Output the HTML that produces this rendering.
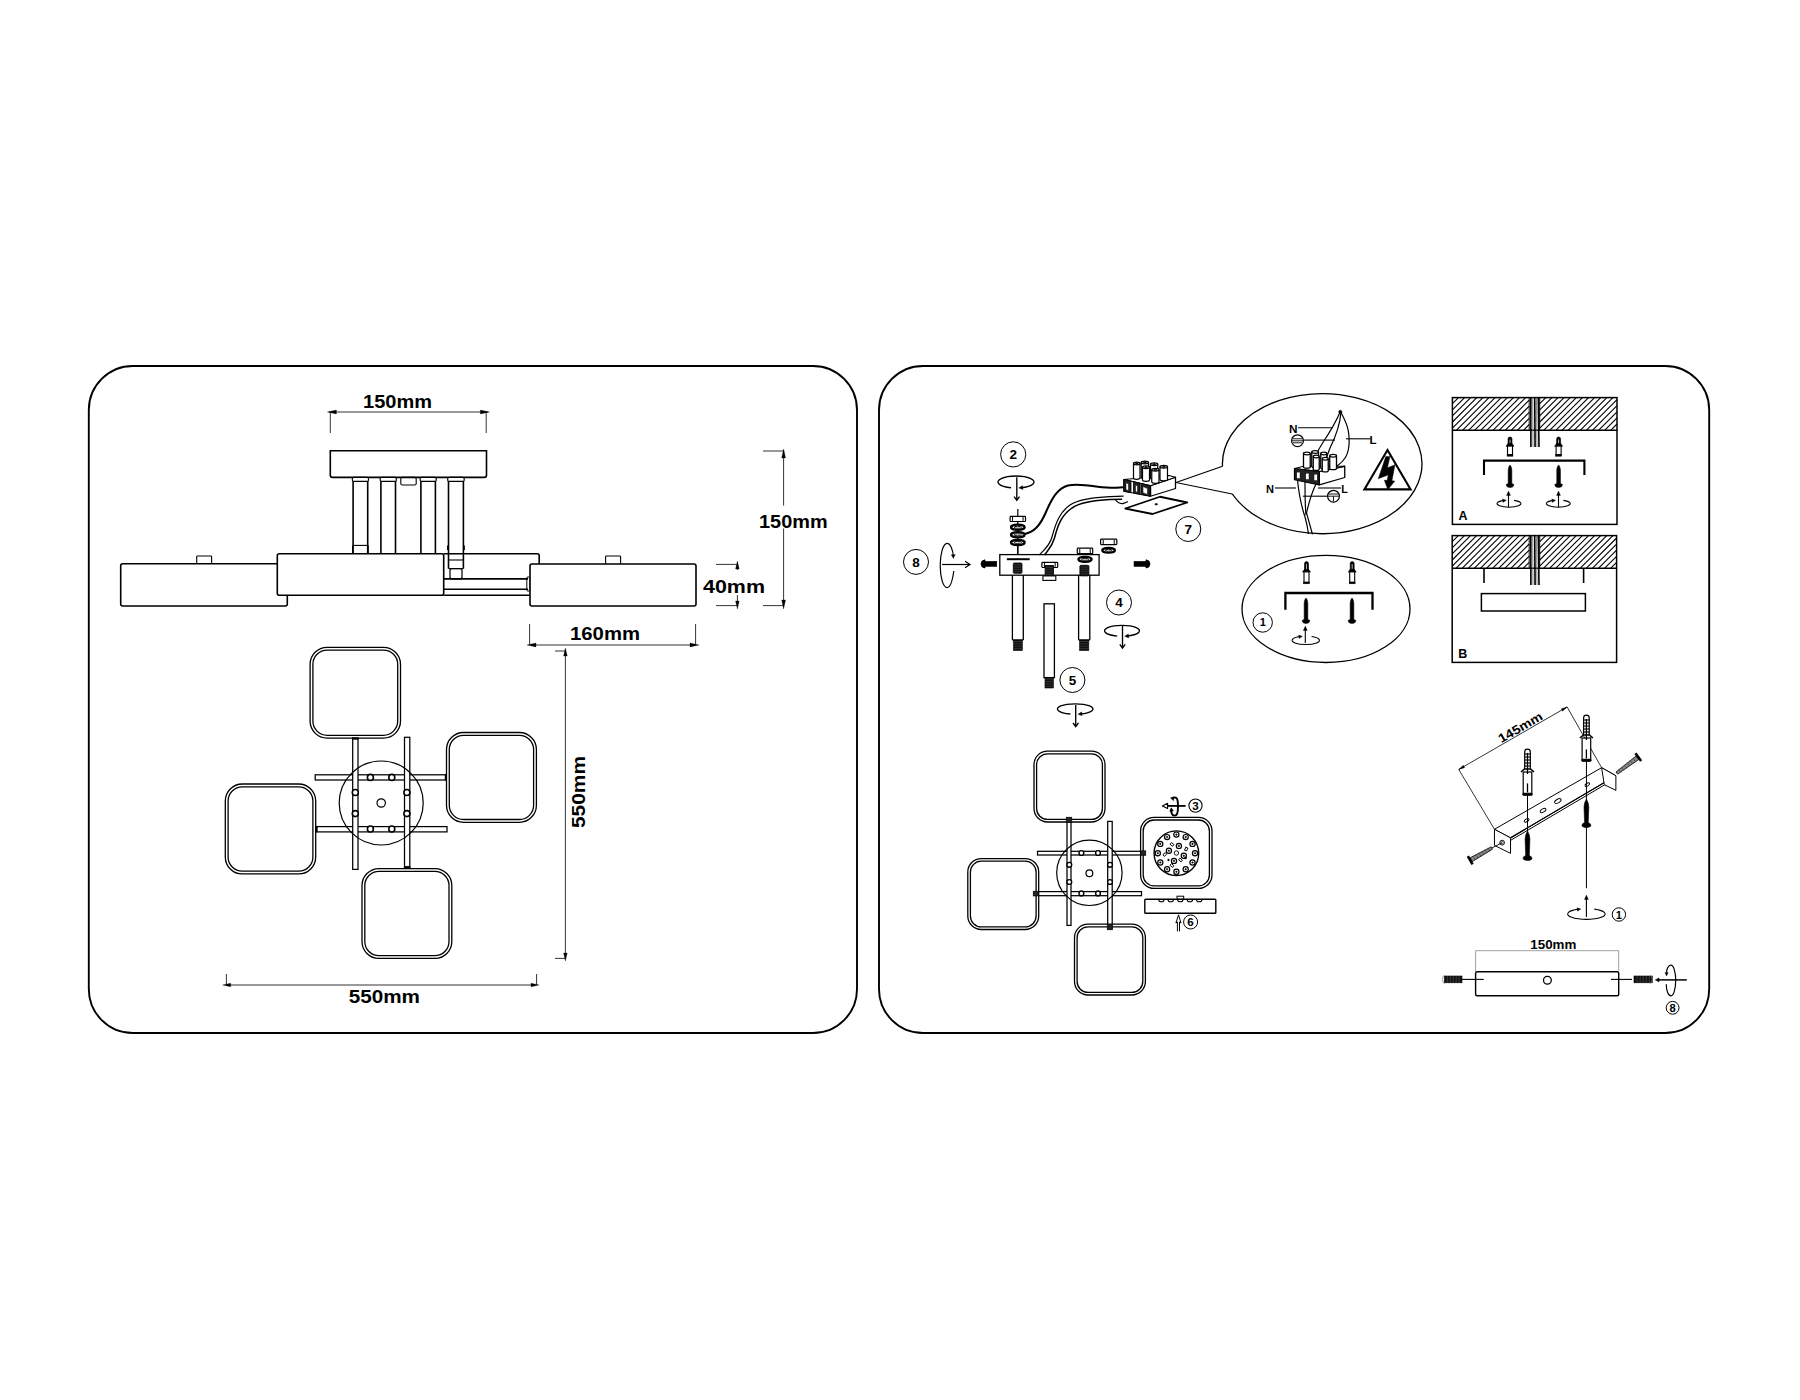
<!DOCTYPE html>
<html><head><meta charset="utf-8"><title>Assembly diagram</title>
<style>
html,body{margin:0;padding:0;background:#fff;}
body{width:1800px;height:1400px;overflow:hidden;position:relative;}
svg{position:absolute;left:0;top:0;}
text{font-family:"Liberation Sans",sans-serif;fill:#000;}
</style></head>
<body>
<svg width="1800" height="1400" viewBox="0 0 1800 1400" stroke-linecap="butt">
<rect x="88.8" y="366" width="768.2" height="667" rx="44" fill="none" stroke="#000" stroke-width="1.9"/>
<rect x="879" y="366" width="830.2" height="667" rx="44" fill="none" stroke="#000" stroke-width="1.9"/>
<line x1="329" y1="412" x2="488" y2="412" stroke="#000" stroke-width="0.8" />
<polygon points="327.4,412 336.4,410.1 336.4,413.9" fill="#000" stroke="#000" stroke-width="0.3" stroke-linejoin="round"/>
<polygon points="489.4,412 480.4,413.9 480.4,410.1" fill="#000" stroke="#000" stroke-width="0.3" stroke-linejoin="round"/>
<line x1="330.3" y1="413" x2="330.3" y2="433" stroke="#000" stroke-width="0.8" />
<line x1="486.2" y1="413" x2="486.2" y2="433" stroke="#000" stroke-width="0.8" />
<text x="363" y="408.3" font-size="18.8" font-weight="bold" text-anchor="start" textLength="69" lengthAdjust="spacingAndGlyphs" >150mm</text>
<path d="M330.3,450.8 H486.5 V475.2 Q486.5,477.4 484.3,477.4 H332.5 Q330.3,477.4 330.3,475.2 Z" fill="none" stroke="#000" stroke-width="1.6" />
<line x1="353.1" y1="477.4" x2="353.1" y2="554" stroke="#000" stroke-width="1.6" />
<line x1="367.7" y1="477.4" x2="367.7" y2="554" stroke="#000" stroke-width="1.6" />
<rect x="352.3" y="477.4" width="16.2" height="4" rx="1.5" fill="#fff" stroke="#000" stroke-width="1.1"/>
<line x1="352.6" y1="545.4" x2="368.2" y2="545.4" stroke="#000" stroke-width="1.1" />
<line x1="352.6" y1="545.4" x2="352.6" y2="554" stroke="#000" stroke-width="1.1" />
<line x1="368.2" y1="545.4" x2="368.2" y2="554" stroke="#000" stroke-width="1.1" />
<line x1="380.9" y1="477.4" x2="380.9" y2="554" stroke="#000" stroke-width="1.6" />
<line x1="395.5" y1="477.4" x2="395.5" y2="554" stroke="#000" stroke-width="1.6" />
<rect x="380.1" y="477.4" width="16.2" height="4" rx="1.5" fill="#fff" stroke="#000" stroke-width="1.1"/>
<rect x="400.8" y="477.4" width="15.4" height="7.6" rx="1.5" fill="none" stroke="#000" stroke-width="1.1"/>
<line x1="420.9" y1="477.4" x2="420.9" y2="554" stroke="#000" stroke-width="1.6" />
<line x1="435.4" y1="477.4" x2="435.4" y2="554" stroke="#000" stroke-width="1.6" />
<rect x="420.1" y="477.4" width="16.1" height="4" rx="1.5" fill="#fff" stroke="#000" stroke-width="1.1"/>
<path d="M443.7,553.7 H537.2 Q539.2,553.7 539.2,555.7 V564" fill="none" stroke="#000" stroke-width="1.6" />
<line x1="448.5" y1="477.4" x2="448.5" y2="568.6" stroke="#000" stroke-width="1.6" />
<line x1="463.4" y1="477.4" x2="463.4" y2="568.6" stroke="#000" stroke-width="1.6" />
<rect x="447.7" y="477.4" width="16.5" height="4" rx="1.5" fill="#fff" stroke="#000" stroke-width="1.1"/>
<line x1="447.6" y1="545.4" x2="447.6" y2="550" stroke="#000" stroke-width="1.1" />
<line x1="464.3" y1="545.4" x2="464.3" y2="550" stroke="#000" stroke-width="1.1" />
<line x1="448.5" y1="560" x2="463.4" y2="560" stroke="#000" stroke-width="1.1" />
<line x1="448.5" y1="568.6" x2="463.4" y2="568.6" stroke="#000" stroke-width="1.1" />
<rect x="450" y="568.6" width="12" height="10.3" rx="2" fill="none" stroke="#000" stroke-width="1.2"/>
<line x1="443.7" y1="578.9" x2="528" y2="578.9" stroke="#000" stroke-width="1.6" />
<line x1="443.7" y1="589.2" x2="528" y2="589.2" stroke="#000" stroke-width="1.6" />
<line x1="443.7" y1="595.2" x2="530" y2="595.2" stroke="#000" stroke-width="1.6" />
<rect x="526.8" y="577" width="3.2" height="14" rx="1" fill="none" stroke="#000" stroke-width="1.0"/>
<path d="M277.3,563.8 H122.7 Q120.7,563.8 120.7,565.8 V604 Q120.7,606 122.7,606 H285.3 Q287.3,606 287.3,604 V595.2" fill="none" stroke="#000" stroke-width="1.6" />
<path d="M196.7,563.8 V556.8 Q196.7,556 197.5,556 H210.8 Q211.6,556 211.6,556.8 V563.8" fill="none" stroke="#000" stroke-width="1.1" />
<rect x="277.3" y="553.7" width="166.4" height="41.5" rx="2" fill="#fff" stroke="#000" stroke-width="1.6"/>
<rect x="530" y="564" width="166" height="42" rx="2" fill="#fff" stroke="#000" stroke-width="1.6"/>
<path d="M605.6,564 V556.8 Q605.6,556 606.4,556 H619.8 Q620.6,556 620.6,556.8 V564" fill="none" stroke="#000" stroke-width="1.1" />
<line x1="783.6" y1="451" x2="783.6" y2="505.6" stroke="#000" stroke-width="0.8" />
<line x1="783.6" y1="528.5" x2="783.6" y2="603" stroke="#000" stroke-width="0.8" />
<polygon points="783.6,449 785.5,458 781.7,458" fill="#000" stroke="#000" stroke-width="0.3" stroke-linejoin="round"/>
<polygon points="783.6,609 781.7,600 785.5,600" fill="#000" stroke="#000" stroke-width="0.3" stroke-linejoin="round"/>
<line x1="763" y1="451" x2="783.6" y2="451" stroke="#000" stroke-width="0.8" />
<line x1="763" y1="605.6" x2="783.6" y2="605.6" stroke="#000" stroke-width="0.8" />
<text x="759" y="527.6" font-size="18.8" font-weight="bold" text-anchor="start" textLength="68.6" lengthAdjust="spacingAndGlyphs" >150mm</text>
<line x1="737.4" y1="566" x2="737.4" y2="570" stroke="#000" stroke-width="0.8" />
<line x1="737.4" y1="595" x2="737.4" y2="603" stroke="#000" stroke-width="0.8" />
<polygon points="737.4,561 739.2,569 735.6,569" fill="#000" stroke="#000" stroke-width="0.3" stroke-linejoin="round"/>
<polygon points="737.4,609 735.6,601 739.2,601" fill="#000" stroke="#000" stroke-width="0.3" stroke-linejoin="round"/>
<line x1="716" y1="564.4" x2="737.4" y2="564.4" stroke="#000" stroke-width="0.8" />
<line x1="716" y1="605.6" x2="737.4" y2="605.6" stroke="#000" stroke-width="0.8" />
<text x="703" y="593" font-size="18.8" font-weight="bold" text-anchor="start" textLength="62" lengthAdjust="spacingAndGlyphs" >40mm</text>
<line x1="531" y1="645" x2="695" y2="645" stroke="#000" stroke-width="0.8" />
<polygon points="527,645 536,643.1 536,646.9" fill="#000" stroke="#000" stroke-width="0.3" stroke-linejoin="round"/>
<polygon points="699,645 690,646.9 690,643.1" fill="#000" stroke="#000" stroke-width="0.3" stroke-linejoin="round"/>
<line x1="529.6" y1="624" x2="529.6" y2="645" stroke="#000" stroke-width="0.8" />
<line x1="695.6" y1="624" x2="695.6" y2="645" stroke="#000" stroke-width="0.8" />
<text x="570" y="640" font-size="18.8" font-weight="bold" text-anchor="start" textLength="70" lengthAdjust="spacingAndGlyphs" >160mm</text>
<rect x="315.2" y="774.8" width="131.3" height="5.2" rx="0" fill="#fff" stroke="#000" stroke-width="1.25"/>
<rect x="315.7" y="826.6" width="131.3" height="5.3" rx="0" fill="#fff" stroke="#000" stroke-width="1.25"/>
<rect x="352.7" y="737.8" width="5.3" height="131.6" rx="0" fill="#fff" stroke="#000" stroke-width="1.25"/>
<rect x="404.5" y="737.3" width="5.3" height="130.5" rx="0" fill="#fff" stroke="#000" stroke-width="1.25"/>
<circle cx="381.2" cy="803" r="42" fill="none" stroke="#000" stroke-width="1.2"/>
<circle cx="381.2" cy="803" r="4.2" fill="none" stroke="#000" stroke-width="1.2"/>
<circle cx="370.4" cy="777.4" r="3" fill="#fff" stroke="#000" stroke-width="1.6"/>
<circle cx="391.8" cy="777.4" r="3" fill="#fff" stroke="#000" stroke-width="1.6"/>
<circle cx="355.3" cy="792.5" r="3" fill="#fff" stroke="#000" stroke-width="1.6"/>
<circle cx="406.9" cy="792.5" r="3" fill="#fff" stroke="#000" stroke-width="1.6"/>
<circle cx="355.3" cy="813.6" r="3" fill="#fff" stroke="#000" stroke-width="1.6"/>
<circle cx="406.9" cy="813.6" r="3" fill="#fff" stroke="#000" stroke-width="1.6"/>
<circle cx="370.4" cy="829" r="3" fill="#fff" stroke="#000" stroke-width="1.6"/>
<circle cx="391.8" cy="829" r="3" fill="#fff" stroke="#000" stroke-width="1.6"/>
<rect x="310.1" y="647.3" width="90.4" height="90.8" rx="17" fill="#fff" stroke="#000" stroke-width="1.3"/>
<rect x="312.9" y="650.1" width="84.8" height="85.2" rx="14.2" fill="none" stroke="#000" stroke-width="1.3"/>
<rect x="446.5" y="732.5" width="89.9" height="89.8" rx="17" fill="#fff" stroke="#000" stroke-width="1.3"/>
<rect x="449.3" y="735.3" width="84.3" height="84.2" rx="14.2" fill="none" stroke="#000" stroke-width="1.3"/>
<rect x="225.3" y="784" width="90.4" height="89.9" rx="17" fill="#fff" stroke="#000" stroke-width="1.3"/>
<rect x="228.1" y="786.8" width="84.8" height="84.3" rx="14.2" fill="none" stroke="#000" stroke-width="1.3"/>
<rect x="362" y="868.6" width="89.8" height="89.8" rx="17" fill="#fff" stroke="#000" stroke-width="1.3"/>
<rect x="364.8" y="871.4" width="84.2" height="84.2" rx="14.2" fill="none" stroke="#000" stroke-width="1.3"/>
<rect x="352.4" y="737.6" width="5.9" height="1.8" rx="0" fill="#000" stroke="#000" stroke-width="0.5"/>
<rect x="404.2" y="866.2" width="5.9" height="1.8" rx="0" fill="#000" stroke="#000" stroke-width="0.5"/>
<rect x="445" y="774.6" width="1.7" height="5.6" rx="0" fill="#000" stroke="#000" stroke-width="0.5"/>
<rect x="315.6" y="826.5" width="1.7" height="5.5" rx="0" fill="#000" stroke="#000" stroke-width="0.5"/>
<line x1="565.4" y1="654" x2="565.4" y2="955" stroke="#000" stroke-width="0.8" />
<polygon points="565.4,648 567.2,656 563.6,656" fill="#000" stroke="#000" stroke-width="0.3" stroke-linejoin="round"/>
<polygon points="565.4,961 563.6,953 567.2,953" fill="#000" stroke="#000" stroke-width="0.3" stroke-linejoin="round"/>
<line x1="555" y1="651" x2="565.4" y2="651" stroke="#000" stroke-width="0.8" />
<line x1="555" y1="958.4" x2="565.4" y2="958.4" stroke="#000" stroke-width="0.8" />
<text x="0" y="0" font-size="18.8" font-weight="bold" text-anchor="middle" textLength="72" lengthAdjust="spacingAndGlyphs" transform="translate(585.3,792) rotate(-90)">550mm</text>
<line x1="227" y1="985" x2="535" y2="985" stroke="#000" stroke-width="0.8" />
<polygon points="222.7,985 230.7,983.2 230.7,986.8" fill="#000" stroke="#000" stroke-width="0.3" stroke-linejoin="round"/>
<polygon points="539,985 531,986.8 531,983.2" fill="#000" stroke="#000" stroke-width="0.3" stroke-linejoin="round"/>
<line x1="226.4" y1="974" x2="226.4" y2="985" stroke="#000" stroke-width="0.8" />
<line x1="536.6" y1="974" x2="536.6" y2="985" stroke="#000" stroke-width="0.8" />
<text x="348.7" y="1002.5" font-size="18.8" font-weight="bold" text-anchor="start" textLength="71.3" lengthAdjust="spacingAndGlyphs" >550mm</text>
<circle cx="1013.2" cy="454.4" r="12.6" fill="none" stroke="#000" stroke-width="1.0"/>
<text x="1013.2" y="459.26" font-size="13.5" font-weight="bold" text-anchor="middle"  >2</text>
<path d="M1011.04,487.77 A18,6 0 1 1 1020.96,487.77" fill="none" stroke="#000" stroke-width="1.35" />
<polygon points="1018.76,487.97 1022.54,485.58 1022.94,489.56" fill="#000" stroke="#000" stroke-width="0.3" stroke-linejoin="round"/>
<line x1="1016.8" y1="477.3" x2="1016.8" y2="500" stroke="#000" stroke-width="1.35" />
<path d="M1014.1,496.7 L1016.8,500.3 L1019.5,496.7" fill="none" stroke="#000" stroke-width="1.35" stroke-linejoin="miter"/>
<line x1="1017.8" y1="509" x2="1017.8" y2="559" stroke="#000" stroke-width="1.2" />
<rect x="1010.1" y="516.4" width="15.4" height="5.1" rx="0.8" fill="#fff" stroke="#000" stroke-width="1.2"/>
<line x1="1012.56" y1="517" x2="1012.56" y2="520.9" stroke="#000" stroke-width="1.0" />
<line x1="1023.04" y1="517" x2="1023.04" y2="520.9" stroke="#000" stroke-width="1.0" />
<ellipse cx="1017.8" cy="527.3" rx="6.8" ry="2.6" fill="#fff" stroke="#000" stroke-width="2.3" />
<ellipse cx="1017.8" cy="527.3" rx="3.74" ry="0.99" fill="#fff" stroke="#000" stroke-width="0.9" />
<ellipse cx="1017.8" cy="534.8" rx="6.8" ry="2.6" fill="#fff" stroke="#000" stroke-width="2.3" />
<ellipse cx="1017.8" cy="534.8" rx="3.74" ry="0.99" fill="#fff" stroke="#000" stroke-width="0.9" />
<ellipse cx="1017.8" cy="542.4" rx="6.8" ry="2.6" fill="#fff" stroke="#000" stroke-width="2.3" />
<ellipse cx="1017.8" cy="542.4" rx="3.74" ry="0.99" fill="#fff" stroke="#000" stroke-width="0.9" />
<line x1="1017.8" y1="545" x2="1017.8" y2="559" stroke="#000" stroke-width="1.2" />
<rect x="999.8" y="554.6" width="99.3" height="20.6" rx="0" fill="#fff" stroke="#000" stroke-width="1.3"/>
<line x1="1006.9" y1="559.2" x2="1029.7" y2="559.2" stroke="#000" stroke-width="2.0" />
<rect x="1013.3" y="563" width="8.7" height="10.3" rx="1" fill="#111" stroke="#000" stroke-width="0.8"/>
<line x1="1013.8" y1="564.8" x2="1021.5" y2="564.8" stroke="#555" stroke-width="0.5" />
<line x1="1013.8" y1="567.1" x2="1021.5" y2="567.1" stroke="#555" stroke-width="0.5" />
<line x1="1013.8" y1="569.4" x2="1021.5" y2="569.4" stroke="#555" stroke-width="0.5" />
<line x1="1013.8" y1="571.7" x2="1021.5" y2="571.7" stroke="#555" stroke-width="0.5" />
<rect x="1041.9" y="562.4" width="15.8" height="5.1" rx="0.8" fill="#fff" stroke="#000" stroke-width="1.2"/>
<line x1="1044.43" y1="563" x2="1044.43" y2="566.9" stroke="#000" stroke-width="1.0" />
<line x1="1055.17" y1="563" x2="1055.17" y2="566.9" stroke="#000" stroke-width="1.0" />
<rect x="1045.1" y="565.5" width="8.4" height="10.4" rx="0" fill="#111" stroke="#000" stroke-width="0.8"/>
<line x1="1045.6" y1="567.5" x2="1053" y2="567.5" stroke="#555" stroke-width="0.5" />
<line x1="1045.6" y1="569.8" x2="1053" y2="569.8" stroke="#555" stroke-width="0.5" />
<line x1="1045.6" y1="572.1" x2="1053" y2="572.1" stroke="#555" stroke-width="0.5" />
<line x1="1045.6" y1="574.4" x2="1053" y2="574.4" stroke="#555" stroke-width="0.5" />
<rect x="1042.9" y="575.9" width="12.9" height="4.5" rx="0" fill="#fff" stroke="#000" stroke-width="1.1"/>
<rect x="1077.3" y="548.2" width="15.4" height="5.5" rx="0.8" fill="#fff" stroke="#000" stroke-width="1.2"/>
<line x1="1079.76" y1="548.8" x2="1079.76" y2="553.1" stroke="#000" stroke-width="1.0" />
<line x1="1090.24" y1="548.8" x2="1090.24" y2="553.1" stroke="#000" stroke-width="1.0" />
<ellipse cx="1085" cy="559.3" rx="6.6" ry="2.5" fill="#fff" stroke="#000" stroke-width="2.3" />
<ellipse cx="1085" cy="559.3" rx="3.63" ry="0.95" fill="#fff" stroke="#000" stroke-width="0.9" />
<rect x="1079.9" y="565.3" width="9" height="10.6" rx="1" fill="#111" stroke="#000" stroke-width="0.8"/>
<line x1="1080.4" y1="567" x2="1088.4" y2="567" stroke="#555" stroke-width="0.5" />
<line x1="1080.4" y1="569.3" x2="1088.4" y2="569.3" stroke="#555" stroke-width="0.5" />
<line x1="1080.4" y1="571.6" x2="1088.4" y2="571.6" stroke="#555" stroke-width="0.5" />
<line x1="1080.4" y1="573.9" x2="1088.4" y2="573.9" stroke="#555" stroke-width="0.5" />
<rect x="1100.6" y="539.2" width="16.2" height="5.4" rx="0.8" fill="#fff" stroke="#000" stroke-width="1.2"/>
<line x1="1103.19" y1="539.8" x2="1103.19" y2="544" stroke="#000" stroke-width="1.0" />
<line x1="1114.21" y1="539.8" x2="1114.21" y2="544" stroke="#000" stroke-width="1.0" />
<ellipse cx="1108.6" cy="550.3" rx="6.3" ry="2.4" fill="#fff" stroke="#000" stroke-width="2.3" />
<ellipse cx="1108.6" cy="550.3" rx="3.47" ry="0.91" fill="#fff" stroke="#000" stroke-width="0.9" />
<line x1="1012.4" y1="575.2" x2="1012.4" y2="640" stroke="#000" stroke-width="1.3" />
<line x1="1023.3" y1="575.2" x2="1023.3" y2="640" stroke="#000" stroke-width="1.3" />
<line x1="1012.4" y1="640" x2="1023.3" y2="640" stroke="#000" stroke-width="1.3" />
<rect x="1013.4" y="640" width="8.9" height="10.5" rx="0" fill="#111" stroke="#000" stroke-width="0.6"/>
<line x1="1012.9" y1="641.5" x2="1022.8" y2="641.5" stroke="#555" stroke-width="0.5" />
<line x1="1012.9" y1="643.88" x2="1022.8" y2="643.88" stroke="#555" stroke-width="0.5" />
<line x1="1012.9" y1="646.25" x2="1022.8" y2="646.25" stroke="#555" stroke-width="0.5" />
<line x1="1012.9" y1="648.62" x2="1022.8" y2="648.62" stroke="#555" stroke-width="0.5" />
<line x1="1078.6" y1="575.2" x2="1078.6" y2="640" stroke="#000" stroke-width="1.3" />
<line x1="1089.8" y1="575.2" x2="1089.8" y2="640" stroke="#000" stroke-width="1.3" />
<line x1="1078.6" y1="640" x2="1089.8" y2="640" stroke="#000" stroke-width="1.3" />
<rect x="1079.6" y="640" width="9.2" height="10.5" rx="0" fill="#111" stroke="#000" stroke-width="0.6"/>
<line x1="1079.1" y1="641.5" x2="1089.3" y2="641.5" stroke="#555" stroke-width="0.5" />
<line x1="1079.1" y1="643.88" x2="1089.3" y2="643.88" stroke="#555" stroke-width="0.5" />
<line x1="1079.1" y1="646.25" x2="1089.3" y2="646.25" stroke="#555" stroke-width="0.5" />
<line x1="1079.1" y1="648.62" x2="1089.3" y2="648.62" stroke="#555" stroke-width="0.5" />
<rect x="1044" y="603.8" width="10.4" height="73.8" rx="0" fill="none" stroke="#000" stroke-width="1.3"/>
<rect x="1045" y="677.6" width="8.4" height="10.4" rx="0" fill="#111" stroke="#000" stroke-width="0.6"/>
<line x1="1044.6" y1="679" x2="1053.8" y2="679" stroke="#555" stroke-width="0.5" />
<line x1="1044.6" y1="681.4" x2="1053.8" y2="681.4" stroke="#555" stroke-width="0.5" />
<line x1="1044.6" y1="683.8" x2="1053.8" y2="683.8" stroke="#555" stroke-width="0.5" />
<line x1="1044.6" y1="686.2" x2="1053.8" y2="686.2" stroke="#555" stroke-width="0.5" />
<circle cx="916" cy="561.9" r="12.5" fill="none" stroke="#000" stroke-width="1.0"/>
<text x="916" y="566.76" font-size="13.5" font-weight="bold" text-anchor="middle"  >8</text>
<path d="M953.8,571 C952,584 950,587.6 947.1,587.6 C943.3,587.6 940.2,577.7 940.2,565.5 C940.2,553.3 943.3,543.3 947.1,543.3 C950.5,543.3 952.8,550 953.4,556" fill="none" stroke="#000" stroke-width="1.2" />
<polygon points="953.4,558.5 951.21,554.8 955.21,554.6" fill="#000" stroke="#000" stroke-width="0.3" stroke-linejoin="round"/>
<line x1="942" y1="564.5" x2="970" y2="564.5" stroke="#000" stroke-width="1.2" />
<path d="M965,567.7 L970,564.5 L965,561.3" fill="none" stroke="#000" stroke-width="1.2" stroke-linejoin="miter"/>
<path d="M985,559.8 Q981,560.3 981,563.9 Q981,567.5 985,568 Z" fill="#000" stroke="#000" stroke-width="0.8" />
<rect x="984" y="561.3" width="12.8" height="5.2" rx="0" fill="#000" stroke="#000" stroke-width="0.5"/>
<path d="M1146,559.8 Q1150,560.3 1150,563.9 Q1150,567.5 1146,568 Z" fill="#000" stroke="#000" stroke-width="0.8" />
<rect x="1134" y="561.3" width="13" height="5.2" rx="0" fill="#000" stroke="#000" stroke-width="0.5"/>
<circle cx="1119" cy="602.5" r="12.5" fill="none" stroke="#000" stroke-width="1.0"/>
<text x="1119" y="607.36" font-size="13.5" font-weight="bold" text-anchor="middle"  >4</text>
<path d="M1117.18,636.09 A17.5,5.5 0 1 1 1126.82,636.09" fill="none" stroke="#000" stroke-width="1.35" />
<polygon points="1124.62,636.29 1128.4,633.9 1128.8,637.88" fill="#000" stroke="#000" stroke-width="0.3" stroke-linejoin="round"/>
<line x1="1122.5" y1="626" x2="1122.5" y2="647.7" stroke="#000" stroke-width="1.35" />
<path d="M1119.8,644.4 L1122.5,648 L1125.2,644.4" fill="none" stroke="#000" stroke-width="1.35" stroke-linejoin="miter"/>
<circle cx="1072.4" cy="680" r="12.5" fill="none" stroke="#000" stroke-width="1.0"/>
<text x="1072.4" y="684.86" font-size="13.5" font-weight="bold" text-anchor="middle"  >5</text>
<path d="M1070.29,714 A17.8,5.2 0 1 1 1080.11,714" fill="none" stroke="#000" stroke-width="1.35" />
<polygon points="1077.91,714.2 1081.69,711.81 1082.09,715.79" fill="#000" stroke="#000" stroke-width="0.3" stroke-linejoin="round"/>
<line x1="1075.7" y1="705" x2="1075.7" y2="726.3" stroke="#000" stroke-width="1.35" />
<path d="M1073,723 L1075.7,726.6 L1078.4,723" fill="none" stroke="#000" stroke-width="1.35" stroke-linejoin="miter"/>
<circle cx="1188.3" cy="529" r="12.5" fill="none" stroke="#000" stroke-width="1.0"/>
<text x="1188.3" y="533.86" font-size="13.5" font-weight="bold" text-anchor="middle"  >7</text>
<path d="M1024.6,534 C1034,532 1040,526 1046,512 C1052,498 1058,488 1068,485.5 C1078,483 1092,486 1102,487.3 C1110,488.2 1116,487.8 1123,487.2" fill="none" stroke="#000" stroke-width="2.0" />
<path d="M1039.4,555 C1045,549 1050,545 1052,537 C1056,522 1060,512 1070,505 C1080,498.5 1095,497.2 1110,496.6 L1123.5,496.2" fill="none" stroke="#000" stroke-width="1.2" />
<path d="M1044.5,555 C1048,550 1052,547 1054.5,538 C1058,524 1062,515 1072,508 C1082,501.5 1096,500.2 1110,499.6 L1122,499.2" fill="none" stroke="#000" stroke-width="1.5" />
<path d="M1115,499 C1117,502 1120,504 1123,503.5 C1125,503 1127,502 1128,501.5" fill="none" stroke="#000" stroke-width="1.3" />
<polygon points="1125.25,508.5 1160,496.75 1187.25,502.5 1152.5,514" fill="#fff" stroke="#000" stroke-width="1.8" stroke-linejoin="round"/>
<ellipse cx="1156.25" cy="504.25" rx="1.3" ry="0.8" fill="#000" stroke="#000" stroke-width="0.6" />
<polygon points="1150.5,485.75 1175.5,477.25 1175.5,488.5 1150.5,496.25" fill="#fff" stroke="#000" stroke-width="1.3" stroke-linejoin="round"/>
<polygon points="1123.75,479.5 1169,475.5 1175.5,477.25 1150.5,485.75" fill="#fff" stroke="#000" stroke-width="1.1" stroke-linejoin="round"/>
<polygon points="1123.75,479.5 1150.5,485.75 1150.5,496.25 1123.75,491.25" fill="#fff" stroke="#000" stroke-width="1.2" stroke-linejoin="round"/>
<polygon points="1124,479.56 1131,481.19 1131,492.61 1124,491.3" fill="#222" stroke="#000" stroke-width="0.8" stroke-linejoin="round"/>
<polygon points="1126,482.56 1128.5,484.19 1128.5,490.86 1126,489.55" fill="#fff" stroke="#000" stroke-width="0.5" stroke-linejoin="round"/>
<polygon points="1133.5,481.77 1140,483.29 1140,494.29 1133.5,493.07" fill="#222" stroke="#000" stroke-width="0.8" stroke-linejoin="round"/>
<polygon points="1135.5,484.77 1137.5,486.29 1137.5,492.54 1135.5,491.32" fill="#fff" stroke="#000" stroke-width="0.5" stroke-linejoin="round"/>
<polygon points="1141,483.52 1150,485.62 1150,496.16 1141,494.48" fill="#222" stroke="#000" stroke-width="0.8" stroke-linejoin="round"/>
<polygon points="1143,486.52 1147.5,488.62 1147.5,494.41 1143,492.73" fill="#fff" stroke="#000" stroke-width="0.5" stroke-linejoin="round"/>
<path d="M1133.5,463.5 V478 A3.25,1.3 0 0 0 1140,478 V463.5" fill="#fff" stroke="#000" stroke-width="1.2" />
<ellipse cx="1136.75" cy="463.5" rx="3.25" ry="1.3" fill="#fff" stroke="#000" stroke-width="1.3" />
<ellipse cx="1136.75" cy="463.5" rx="1.46" ry="0.6" fill="#000" stroke="#000" stroke-width="0.7" />
<path d="M1141.25,462.5 V477 A3.62,1.3 0 0 0 1148.5,477 V462.5" fill="#fff" stroke="#000" stroke-width="1.2" />
<ellipse cx="1144.88" cy="462.5" rx="3.62" ry="1.3" fill="#fff" stroke="#000" stroke-width="1.3" />
<ellipse cx="1144.88" cy="462.5" rx="1.63" ry="0.6" fill="#000" stroke="#000" stroke-width="0.7" />
<path d="M1150.5,464.25 V478 A3.62,1.3 0 0 0 1157.75,478 V464.25" fill="#fff" stroke="#000" stroke-width="1.2" />
<ellipse cx="1154.12" cy="464.25" rx="3.62" ry="1.3" fill="#fff" stroke="#000" stroke-width="1.3" />
<ellipse cx="1154.12" cy="464.25" rx="1.63" ry="0.6" fill="#000" stroke="#000" stroke-width="0.7" />
<path d="M1142.5,467.25 V480 A3.5,1.3 0 0 0 1149.5,480 V467.25" fill="#fff" stroke="#000" stroke-width="1.2" />
<ellipse cx="1146" cy="467.25" rx="3.5" ry="1.3" fill="#fff" stroke="#000" stroke-width="1.3" />
<ellipse cx="1146" cy="467.25" rx="1.57" ry="0.6" fill="#000" stroke="#000" stroke-width="0.7" />
<path d="M1151.75,469.75 V482 A3.62,1.3 0 0 0 1159,482 V469.75" fill="#fff" stroke="#000" stroke-width="1.2" />
<ellipse cx="1155.38" cy="469.75" rx="3.62" ry="1.3" fill="#fff" stroke="#000" stroke-width="1.3" />
<ellipse cx="1155.38" cy="469.75" rx="1.63" ry="0.6" fill="#000" stroke="#000" stroke-width="0.7" />
<path d="M1160,466.75 V479.5 A3.75,1.3 0 0 0 1167.5,479.5 V466.75" fill="#fff" stroke="#000" stroke-width="1.2" />
<ellipse cx="1163.75" cy="466.75" rx="3.75" ry="1.3" fill="#fff" stroke="#000" stroke-width="1.3" />
<ellipse cx="1163.75" cy="466.75" rx="1.69" ry="0.6" fill="#000" stroke="#000" stroke-width="0.7" />
<line x1="1176" y1="482.5" x2="1222.5" y2="466.2" stroke="#000" stroke-width="1.2" />
<line x1="1176" y1="482.5" x2="1232.2" y2="494" stroke="#000" stroke-width="1.2" />
<path d="M1222.5,466.25 A99.75,70 0 1 1 1232.25,493.99" fill="none" stroke="#000" stroke-width="1.3" />
<path d="M1340.2,411.8 C1336,422 1330,432 1322,444 C1317,452 1315,456 1313.6,461" fill="none" stroke="#000" stroke-width="1.2" />
<path d="M1341,412 C1340,425 1336,436 1330,448 C1327,455 1326,459 1325,464" fill="none" stroke="#000" stroke-width="1.2" />
<path d="M1341,412.5 C1346,422 1350,430 1349,445 C1348,456 1344,461 1337,466" fill="none" stroke="#000" stroke-width="1.2" />
<circle cx="1340.3" cy="411.8" r="1.6" fill="#000" stroke="#000" stroke-width="0.5"/>
<text x="1289" y="432.6" font-size="11.5" font-weight="bold" text-anchor="start" textLength="8.5" lengthAdjust="spacingAndGlyphs" >N</text>
<line x1="1298" y1="427.7" x2="1333" y2="427.7" stroke="#000" stroke-width="1.1" />
<circle cx="1297.5" cy="440.7" r="5.9" fill="#fff" stroke="#000" stroke-width="1.2"/>
<line x1="1292.5" y1="438.8" x2="1302.5" y2="438.8" stroke="#000" stroke-width="0.9" />
<line x1="1291.8" y1="440.8" x2="1303.2" y2="440.8" stroke="#000" stroke-width="0.9" />
<line x1="1293" y1="442.8" x2="1302" y2="442.8" stroke="#000" stroke-width="0.9" />
<line x1="1303.5" y1="440.1" x2="1335" y2="440.1" stroke="#000" stroke-width="1.1" />
<line x1="1346" y1="438.8" x2="1370.5" y2="438.8" stroke="#000" stroke-width="1.1" />
<text x="1369.5" y="443.8" font-size="11.5" font-weight="bold" text-anchor="start" textLength="7" lengthAdjust="spacingAndGlyphs" >L</text>
<polygon points="1319.24,471.5 1344.74,466.25 1344.74,477.5 1319.24,484.99" fill="#fff" stroke="#000" stroke-width="1.3" stroke-linejoin="round"/>
<polygon points="1294.49,468.5 1303.49,466.25 1344.74,466.25 1319.24,471.5" fill="#fff" stroke="#000" stroke-width="1.0" stroke-linejoin="round"/>
<polygon points="1294.49,468.5 1319.24,471.5 1319.24,484.99 1294.49,479.75" fill="#222" stroke="#000" stroke-width="1.2" stroke-linejoin="round"/>
<rect x="1296.74" y="472.07" width="3.3" height="6.45" rx="0" fill="#fff" stroke="#000" stroke-width="0.5"/>
<rect x="1305.74" y="473.15" width="3.3" height="6.45" rx="0" fill="#fff" stroke="#000" stroke-width="0.5"/>
<rect x="1313.99" y="474.14" width="3.3" height="6.45" rx="0" fill="#fff" stroke="#000" stroke-width="0.5"/>
<path d="M1303.49,453.5 V467 A3.37,1.2 0 0 0 1310.24,467 V453.5" fill="#fff" stroke="#000" stroke-width="1.3" />
<ellipse cx="1306.87" cy="453.5" rx="3.37" ry="1.3" fill="#fff" stroke="#000" stroke-width="1.3" />
<path d="M1311.74,452 V466.25 A3.37,1.2 0 0 0 1318.49,466.25 V452" fill="#fff" stroke="#000" stroke-width="1.3" />
<ellipse cx="1315.12" cy="452" rx="3.37" ry="1.3" fill="#fff" stroke="#000" stroke-width="1.3" />
<path d="M1320.74,453.5 V467.75 A3,1.2 0 0 0 1326.74,467.75 V453.5" fill="#fff" stroke="#000" stroke-width="1.3" />
<ellipse cx="1323.74" cy="453.5" rx="3" ry="1.3" fill="#fff" stroke="#000" stroke-width="1.3" />
<path d="M1329.74,455.75 V468.5 A3.37,1.2 0 0 0 1336.49,468.5 V455.75" fill="#fff" stroke="#000" stroke-width="1.3" />
<ellipse cx="1333.12" cy="455.75" rx="3.37" ry="1.3" fill="#fff" stroke="#000" stroke-width="1.3" />
<path d="M1313.24,456.5 V469.25 A3,1.2 0 0 0 1319.24,469.25 V456.5" fill="#fff" stroke="#000" stroke-width="1.3" />
<ellipse cx="1316.24" cy="456.5" rx="3" ry="1.3" fill="#fff" stroke="#000" stroke-width="1.3" />
<path d="M1322.24,458.75 V470.75 A3,1.2 0 0 0 1328.24,470.75 V458.75" fill="#fff" stroke="#000" stroke-width="1.3" />
<ellipse cx="1325.24" cy="458.75" rx="3" ry="1.3" fill="#fff" stroke="#000" stroke-width="1.3" />
<path d="M1297.5,480 C1299,495 1302,508 1305,517 C1307,524 1308,530 1308.5,534" fill="none" stroke="#000" stroke-width="1.2" />
<path d="M1305,481 C1305,495 1305,505 1306,515" fill="none" stroke="#000" stroke-width="1.2" />
<path d="M1316,484 C1312,492 1309,502 1306.5,513 L1312.5,534.4" fill="none" stroke="#000" stroke-width="1.2" />
<text x="1266" y="492.5" font-size="11.5" font-weight="bold" text-anchor="start" textLength="8" lengthAdjust="spacingAndGlyphs" >N</text>
<line x1="1275" y1="488" x2="1296" y2="488" stroke="#000" stroke-width="1.1" />
<line x1="1318" y1="488" x2="1341" y2="488" stroke="#000" stroke-width="1.1" />
<text x="1341.3" y="492.5" font-size="11.5" font-weight="bold" text-anchor="start" textLength="6.5" lengthAdjust="spacingAndGlyphs" >L</text>
<line x1="1303" y1="496.2" x2="1327.5" y2="496.2" stroke="#000" stroke-width="1.1" />
<circle cx="1333.5" cy="496.2" r="5.9" fill="#fff" stroke="#000" stroke-width="1.2"/>
<line x1="1328.5" y1="494" x2="1338.5" y2="494" stroke="#000" stroke-width="0.9" />
<line x1="1328" y1="496.2" x2="1339" y2="496.2" stroke="#000" stroke-width="0.9" />
<line x1="1333.5" y1="496.2" x2="1333.5" y2="501.5" stroke="#000" stroke-width="0.9" />
<polygon points="1387.5,450 1364.4,489.4 1410.6,489.4" fill="#fff" stroke="#000" stroke-width="2.1" stroke-linejoin="miter"/>
<polygon points="1385.71,456.43 1390,456.43 1387.5,467.86 1395,464.64 1391.96,480.71 1394.82,481.07 1387.86,489.64 1384.29,480.18 1387.14,480.36 1388.21,475 1378.21,478.75" fill="#000" stroke="#000" stroke-width="0.4" stroke-linejoin="round"/>
<ellipse cx="1326" cy="608.9" rx="84" ry="53.6" fill="none" stroke="#000" stroke-width="1.3" />
<path d="M1304.5,570.48 V563.6 A2,2 0 0 1 1308.5,563.6 V570.48 Z" fill="#000" stroke="#000" stroke-width="0.6" />
<line x1="1306.5" y1="564.1" x2="1306.5" y2="569.98" stroke="#fff" stroke-width="0.7" />
<polygon points="1302.5,572.08 1304.5,569.28 1308.5,569.28 1310.5,572.08" fill="#000" stroke="#000" stroke-width="0.6" stroke-linejoin="round"/>
<rect x="1304" y="571.88" width="5" height="10.52" rx="0" fill="#fff" stroke="#000" stroke-width="1.1"/>
<rect x="1303.6" y="582" width="5.8" height="1.8" rx="0" fill="#000" stroke="#000" stroke-width="0.5"/>
<path d="M1350.2,570.48 V563.6 A2,2 0 0 1 1354.2,563.6 V570.48 Z" fill="#000" stroke="#000" stroke-width="0.6" />
<line x1="1352.2" y1="564.1" x2="1352.2" y2="569.98" stroke="#fff" stroke-width="0.7" />
<polygon points="1348.2,572.08 1350.2,569.28 1354.2,569.28 1356.2,572.08" fill="#000" stroke="#000" stroke-width="0.6" stroke-linejoin="round"/>
<rect x="1349.7" y="571.88" width="5" height="10.52" rx="0" fill="#fff" stroke="#000" stroke-width="1.1"/>
<rect x="1349.3" y="582" width="5.8" height="1.8" rx="0" fill="#000" stroke="#000" stroke-width="0.5"/>
<path d="M1285.4,609.7 V593 H1372.5 V609.7" fill="none" stroke="#000" stroke-width="2.3" stroke-linejoin="miter"/>
<path d="M1306,598 Q1307.8,600 1307.8,603 V619.4 L1309.8,620.4 Q1309.8,623.4 1306,623.4 Q1302.2,623.4 1302.2,620.4 L1304.2,619.4 V603 Q1304.2,600 1306,598 Z" fill="#000" stroke="#000" stroke-width="0.6" />
<path d="M1352,598 Q1353.8,600 1353.8,603 V619.4 L1355.8,620.4 Q1355.8,623.4 1352,623.4 Q1348.2,623.4 1348.2,620.4 L1350.2,619.4 V603 Q1350.2,600 1352,598 Z" fill="#000" stroke="#000" stroke-width="0.6" />
<path d="M1311.59,636.49 A13.7,4.2 0 1 1 1300.01,636.49" fill="none" stroke="#000" stroke-width="1.1" />
<polygon points="1302.41,636.29 1299.12,638.61 1298.58,635.05" fill="#000" stroke="#000" stroke-width="0.3" stroke-linejoin="round"/>
<line x1="1305.3" y1="643" x2="1305.3" y2="629" stroke="#000" stroke-width="1.1" />
<polygon points="1305.3,626 1307.3,630.5 1303.3,630.5" fill="#000" stroke="#000" stroke-width="0.3" stroke-linejoin="round"/>
<circle cx="1262.7" cy="622.5" r="9.7" fill="none" stroke="#000" stroke-width="1.0"/>
<text x="1262.7" y="626.46" font-size="11" font-weight="bold" text-anchor="middle"  >1</text>
<rect x="1452.4" y="397.6" width="164.6" height="126.8" rx="0" fill="none" stroke="#000" stroke-width="1.5"/>
<path d="M1452.4,403.7L1458.5,397.6M1452.4,409.8L1464.6,397.6M1452.4,415.9L1470.7,397.6M1452.4,422L1476.8,397.6M1452.4,428.1L1482.9,397.6M1456.3,430.3L1489,397.6M1462.4,430.3L1495.1,397.6M1468.5,430.3L1501.2,397.6M1474.6,430.3L1507.3,397.6M1480.7,430.3L1513.4,397.6M1486.8,430.3L1519.5,397.6M1492.9,430.3L1525.6,397.6M1499,430.3L1529.2,400.1M1505.1,430.3L1529.2,406.2M1511.2,430.3L1529.2,412.3M1517.3,430.3L1529.2,418.4M1523.4,430.3L1529.2,424.5" fill="none" stroke="#000" stroke-width="1.1" />
<path d="M1539.7,403.7L1545.8,397.6M1539.7,409.8L1551.9,397.6M1539.7,415.9L1558,397.6M1539.7,422L1564.1,397.6M1539.7,428.1L1570.2,397.6M1543.6,430.3L1576.3,397.6M1549.7,430.3L1582.4,397.6M1555.8,430.3L1588.5,397.6M1561.9,430.3L1594.6,397.6M1568,430.3L1600.7,397.6M1574.1,430.3L1606.8,397.6M1580.2,430.3L1612.9,397.6M1586.3,430.3L1617,399.6M1592.4,430.3L1617,405.7M1598.5,430.3L1617,411.8M1604.6,430.3L1617,417.9M1610.7,430.3L1617,424M1616.8,430.3L1617,430.1" fill="none" stroke="#000" stroke-width="1.1" />
<line x1="1452.4" y1="430.3" x2="1617" y2="430.3" stroke="#000" stroke-width="1.5" />
<line x1="1529.2" y1="397.6" x2="1529.2" y2="430.3" stroke="#000" stroke-width="1.0" />
<line x1="1539.7" y1="397.6" x2="1539.7" y2="430.3" stroke="#000" stroke-width="1.0" />
<path d="M1530.8,397.6 L1530.9,447" fill="none" stroke="#000" stroke-width="1.6" />
<path d="M1534.7,397.6 L1535.1,447" fill="none" stroke="#000" stroke-width="1.6" />
<path d="M1538.3,397.6 L1539,447" fill="none" stroke="#000" stroke-width="1.6" />
<path d="M1532.7,397.6 L1533,447" fill="none" stroke="#666" stroke-width="0.8" />
<path d="M1536.5,397.6 L1537,447" fill="none" stroke="#666" stroke-width="0.8" />
<text x="1458.4" y="519.8" font-size="12.5" font-weight="bold" text-anchor="start" textLength="9" lengthAdjust="spacingAndGlyphs" >A</text>
<rect x="1452.2" y="535.6" width="164.4" height="126.8" rx="0" fill="none" stroke="#000" stroke-width="1.5"/>
<path d="M1452.2,541.7L1458.3,535.6M1452.2,547.8L1464.4,535.6M1452.2,553.9L1470.5,535.6M1452.2,560L1476.6,535.6M1452.2,566.1L1482.7,535.6M1456.2,568.2L1488.8,535.6M1462.3,568.2L1494.9,535.6M1468.4,568.2L1501,535.6M1474.5,568.2L1507.1,535.6M1480.6,568.2L1513.2,535.6M1486.7,568.2L1519.3,535.6M1492.8,568.2L1525.4,535.6M1498.9,568.2L1529.2,537.9M1505,568.2L1529.2,544M1511.1,568.2L1529.2,550.1M1517.2,568.2L1529.2,556.2M1523.3,568.2L1529.2,562.3" fill="none" stroke="#000" stroke-width="1.1" />
<path d="M1539.7,541.7L1545.8,535.6M1539.7,547.8L1551.9,535.6M1539.7,553.9L1558,535.6M1539.7,560L1564.1,535.6M1539.7,566.1L1570.2,535.6M1543.7,568.2L1576.3,535.6M1549.8,568.2L1582.4,535.6M1555.9,568.2L1588.5,535.6M1562,568.2L1594.6,535.6M1568.1,568.2L1600.7,535.6M1574.2,568.2L1606.8,535.6M1580.3,568.2L1612.9,535.6M1586.4,568.2L1616.6,538M1592.5,568.2L1616.6,544.1M1598.6,568.2L1616.6,550.2M1604.7,568.2L1616.6,556.3M1610.8,568.2L1616.6,562.4" fill="none" stroke="#000" stroke-width="1.1" />
<line x1="1452.2" y1="568.2" x2="1616.6" y2="568.2" stroke="#000" stroke-width="1.5" />
<line x1="1529.2" y1="535.6" x2="1529.2" y2="568.2" stroke="#000" stroke-width="1.0" />
<line x1="1539.7" y1="535.6" x2="1539.7" y2="568.2" stroke="#000" stroke-width="1.0" />
<path d="M1530.8,535.6 L1530.9,585" fill="none" stroke="#000" stroke-width="1.6" />
<path d="M1534.7,535.6 L1535.1,585" fill="none" stroke="#000" stroke-width="1.6" />
<path d="M1538.3,535.6 L1539,585" fill="none" stroke="#000" stroke-width="1.6" />
<path d="M1532.7,535.6 L1533,585" fill="none" stroke="#666" stroke-width="0.8" />
<path d="M1536.5,535.6 L1537,585" fill="none" stroke="#666" stroke-width="0.8" />
<text x="1458.2" y="657.8" font-size="12.5" font-weight="bold" text-anchor="start" textLength="9" lengthAdjust="spacingAndGlyphs" >B</text>
<path d="M1508,444.68 V439 A2,2 0 0 1 1512,439 V444.68 Z" fill="#000" stroke="#000" stroke-width="0.6" />
<line x1="1510" y1="439.5" x2="1510" y2="444.18" stroke="#fff" stroke-width="0.7" />
<polygon points="1506,446.28 1508,443.48 1512,443.48 1514,446.28" fill="#000" stroke="#000" stroke-width="0.6" stroke-linejoin="round"/>
<rect x="1507.5" y="446.08" width="5" height="8.72" rx="0" fill="#fff" stroke="#000" stroke-width="1.1"/>
<rect x="1507.1" y="454.4" width="5.8" height="1.8" rx="0" fill="#000" stroke="#000" stroke-width="0.5"/>
<path d="M1556.6,444.68 V439 A2,2 0 0 1 1560.6,439 V444.68 Z" fill="#000" stroke="#000" stroke-width="0.6" />
<line x1="1558.6" y1="439.5" x2="1558.6" y2="444.18" stroke="#fff" stroke-width="0.7" />
<polygon points="1554.6,446.28 1556.6,443.48 1560.6,443.48 1562.6,446.28" fill="#000" stroke="#000" stroke-width="0.6" stroke-linejoin="round"/>
<rect x="1556.1" y="446.08" width="5" height="8.72" rx="0" fill="#fff" stroke="#000" stroke-width="1.1"/>
<rect x="1555.7" y="454.4" width="5.8" height="1.8" rx="0" fill="#000" stroke="#000" stroke-width="0.5"/>
<path d="M1484,475 V460.6 H1584.4 V475" fill="none" stroke="#000" stroke-width="2.1" stroke-linejoin="miter"/>
<path d="M1510,465 Q1511.8,467 1511.8,470 V483.5 L1513.8,484.5 Q1513.8,487.5 1510,487.5 Q1506.2,487.5 1506.2,484.5 L1508.2,483.5 V470 Q1508.2,467 1510,465 Z" fill="#000" stroke="#000" stroke-width="0.6" />
<path d="M1558.6,465 Q1560.4,467 1560.4,470 V483.5 L1562.4,484.5 Q1562.4,487.5 1558.6,487.5 Q1554.8,487.5 1554.8,484.5 L1556.8,483.5 V470 Q1556.8,467 1558.6,465 Z" fill="#000" stroke="#000" stroke-width="0.6" />
<path d="M1514.07,500.34 A12,3.6 0 1 1 1503.93,500.34" fill="none" stroke="#000" stroke-width="1.1" />
<polygon points="1506.33,500.14 1503.04,502.45 1502.5,498.89" fill="#000" stroke="#000" stroke-width="0.3" stroke-linejoin="round"/>
<line x1="1508.5" y1="507" x2="1508.5" y2="494" stroke="#000" stroke-width="1.1" />
<polygon points="1508.5,491 1510.5,495.5 1506.5,495.5" fill="#000" stroke="#000" stroke-width="0.3" stroke-linejoin="round"/>
<path d="M1563.37,500.34 A12,3.6 0 1 1 1553.23,500.34" fill="none" stroke="#000" stroke-width="1.1" />
<polygon points="1555.63,500.14 1552.34,502.45 1551.8,498.89" fill="#000" stroke="#000" stroke-width="0.3" stroke-linejoin="round"/>
<line x1="1558.5" y1="507" x2="1558.5" y2="494" stroke="#000" stroke-width="1.1" />
<polygon points="1558.5,491 1560.5,495.5 1556.5,495.5" fill="#000" stroke="#000" stroke-width="0.3" stroke-linejoin="round"/>
<line x1="1484" y1="569" x2="1484" y2="583" stroke="#000" stroke-width="1.6" />
<line x1="1583.6" y1="569" x2="1583.6" y2="583" stroke="#000" stroke-width="1.6" />
<rect x="1481.4" y="593.6" width="104" height="17.4" rx="0" fill="none" stroke="#000" stroke-width="1.5"/>
<rect x="1037.5" y="851.3" width="107.9" height="3.7" rx="0" fill="#fff" stroke="#000" stroke-width="1.25"/>
<rect x="1033.4" y="891.6" width="108.1" height="4.1" rx="0" fill="#fff" stroke="#000" stroke-width="1.25"/>
<rect x="1067" y="817.5" width="4" height="107.9" rx="0" fill="#fff" stroke="#000" stroke-width="1.25"/>
<rect x="1107.7" y="821.4" width="4.5" height="108.1" rx="0" fill="#fff" stroke="#000" stroke-width="1.25"/>
<circle cx="1089.4" cy="872.8" r="32.7" fill="none" stroke="#000" stroke-width="1.2"/>
<circle cx="1089.4" cy="873.2" r="3.4" fill="none" stroke="#000" stroke-width="1.2"/>
<circle cx="1081.4" cy="853" r="2.4" fill="#fff" stroke="#000" stroke-width="1.4"/>
<circle cx="1098" cy="853" r="2.4" fill="#fff" stroke="#000" stroke-width="1.4"/>
<circle cx="1069.3" cy="864.8" r="2.4" fill="#fff" stroke="#000" stroke-width="1.4"/>
<circle cx="1110" cy="864.8" r="2.4" fill="#fff" stroke="#000" stroke-width="1.4"/>
<circle cx="1069.3" cy="882" r="2.4" fill="#fff" stroke="#000" stroke-width="1.4"/>
<circle cx="1110" cy="882" r="2.4" fill="#fff" stroke="#000" stroke-width="1.4"/>
<circle cx="1081.4" cy="893.4" r="2.4" fill="#fff" stroke="#000" stroke-width="1.4"/>
<circle cx="1098" cy="893.4" r="2.4" fill="#fff" stroke="#000" stroke-width="1.4"/>
<rect x="1034" y="751.2" width="71" height="70.8" rx="13.5" fill="#fff" stroke="#000" stroke-width="1.3"/>
<rect x="1036.6" y="753.8" width="65.8" height="65.6" rx="10.9" fill="none" stroke="#000" stroke-width="1.3"/>
<rect x="967.8" y="858.6" width="70.9" height="70.9" rx="13.5" fill="#fff" stroke="#000" stroke-width="1.3"/>
<rect x="970.4" y="861.2" width="65.7" height="65.7" rx="10.9" fill="none" stroke="#000" stroke-width="1.3"/>
<rect x="1074.5" y="924.2" width="70.9" height="70.8" rx="13.5" fill="#fff" stroke="#000" stroke-width="1.3"/>
<rect x="1077.1" y="926.8" width="65.7" height="65.6" rx="10.9" fill="none" stroke="#000" stroke-width="1.3"/>
<rect x="1140.6" y="817.4" width="71.4" height="71" rx="13.5" fill="#fff" stroke="#000" stroke-width="1.3"/>
<rect x="1143.2" y="820" width="66.2" height="65.8" rx="10.9" fill="none" stroke="#000" stroke-width="1.3"/>
<rect x="1066.2" y="817.2" width="5.6" height="5.3" rx="0" fill="#222" stroke="#000" stroke-width="0.6"/>
<rect x="1107.2" y="924.5" width="5.5" height="5.3" rx="0" fill="#222" stroke="#000" stroke-width="0.6"/>
<rect x="1140.6" y="850.8" width="5.2" height="4.6" rx="0" fill="#222" stroke="#000" stroke-width="0.6"/>
<rect x="1033.2" y="891.2" width="5.4" height="4.8" rx="0" fill="#222" stroke="#000" stroke-width="0.6"/>
<circle cx="1176.4" cy="853.2" r="22.3" fill="#fff" stroke="#000" stroke-width="1.4"/>
<circle cx="1176.4" cy="834.6" r="2.6" fill="#fff" stroke="#000" stroke-width="1.2"/>
<circle cx="1176.4" cy="834.6" r="0.8" fill="#000" stroke="#000" stroke-width="0.5"/>
<circle cx="1185.7" cy="837.09" r="2.6" fill="#fff" stroke="#000" stroke-width="1.2"/>
<circle cx="1185.7" cy="837.09" r="0.8" fill="#000" stroke="#000" stroke-width="0.5"/>
<circle cx="1192.51" cy="843.9" r="2.6" fill="#fff" stroke="#000" stroke-width="1.2"/>
<circle cx="1192.51" cy="843.9" r="0.8" fill="#000" stroke="#000" stroke-width="0.5"/>
<circle cx="1195" cy="853.2" r="2.6" fill="#fff" stroke="#000" stroke-width="1.2"/>
<circle cx="1195" cy="853.2" r="0.8" fill="#000" stroke="#000" stroke-width="0.5"/>
<circle cx="1192.51" cy="862.5" r="2.6" fill="#fff" stroke="#000" stroke-width="1.2"/>
<circle cx="1192.51" cy="862.5" r="0.8" fill="#000" stroke="#000" stroke-width="0.5"/>
<circle cx="1185.7" cy="869.31" r="2.6" fill="#fff" stroke="#000" stroke-width="1.2"/>
<circle cx="1185.7" cy="869.31" r="0.8" fill="#000" stroke="#000" stroke-width="0.5"/>
<circle cx="1176.4" cy="871.8" r="2.6" fill="#fff" stroke="#000" stroke-width="1.2"/>
<circle cx="1176.4" cy="871.8" r="0.8" fill="#000" stroke="#000" stroke-width="0.5"/>
<circle cx="1167.1" cy="869.31" r="2.6" fill="#fff" stroke="#000" stroke-width="1.2"/>
<circle cx="1167.1" cy="869.31" r="0.8" fill="#000" stroke="#000" stroke-width="0.5"/>
<circle cx="1160.29" cy="862.5" r="2.6" fill="#fff" stroke="#000" stroke-width="1.2"/>
<circle cx="1160.29" cy="862.5" r="0.8" fill="#000" stroke="#000" stroke-width="0.5"/>
<circle cx="1157.8" cy="853.2" r="2.6" fill="#fff" stroke="#000" stroke-width="1.2"/>
<circle cx="1157.8" cy="853.2" r="0.8" fill="#000" stroke="#000" stroke-width="0.5"/>
<circle cx="1160.29" cy="843.9" r="2.6" fill="#fff" stroke="#000" stroke-width="1.2"/>
<circle cx="1160.29" cy="843.9" r="0.8" fill="#000" stroke="#000" stroke-width="0.5"/>
<circle cx="1167.1" cy="837.09" r="2.6" fill="#fff" stroke="#000" stroke-width="1.2"/>
<circle cx="1167.1" cy="837.09" r="0.8" fill="#000" stroke="#000" stroke-width="0.5"/>
<circle cx="1176.4" cy="853" r="2.2" fill="#fff" stroke="#000" stroke-width="0.9"/>
<circle cx="1178.9" cy="845.9" r="2.6" fill="#fff" stroke="#000" stroke-width="1.2"/>
<circle cx="1178.9" cy="845.9" r="0.8" fill="#000" stroke="#000" stroke-width="0.5"/>
<circle cx="1168.9" cy="850.7" r="2.6" fill="#fff" stroke="#000" stroke-width="1.2"/>
<circle cx="1168.9" cy="850.7" r="0.8" fill="#000" stroke="#000" stroke-width="0.5"/>
<circle cx="1183.8" cy="855.8" r="2.6" fill="#fff" stroke="#000" stroke-width="1.2"/>
<circle cx="1183.8" cy="855.8" r="0.8" fill="#000" stroke="#000" stroke-width="0.5"/>
<circle cx="1174" cy="860.9" r="2.6" fill="#fff" stroke="#000" stroke-width="1.2"/>
<circle cx="1174" cy="860.9" r="0.8" fill="#000" stroke="#000" stroke-width="0.5"/>
<rect x="1170.4" y="843.3" width="3.2" height="2.2" fill="#fff" stroke="#000" stroke-width="0.9" transform="rotate(40 1172 844.4)"/>
<rect x="1163.2" y="853.4" width="3.2" height="2.2" fill="#fff" stroke="#000" stroke-width="0.9" transform="rotate(-40 1164.8 854.5)"/>
<rect x="1184.6" y="848" width="3.2" height="2.2" fill="#fff" stroke="#000" stroke-width="0.9" transform="rotate(-65 1186.2 849.1)"/>
<rect x="1178.9" y="858.9" width="3.2" height="2.2" fill="#fff" stroke="#000" stroke-width="0.9" transform="rotate(40 1180.5 860)"/>
<rect x="1170.4" y="864.4" width="3.2" height="2.2" fill="#fff" stroke="#000" stroke-width="0.9" transform="rotate(40 1172 865.5)"/>
<circle cx="1168.5" cy="860" r="0.9" fill="#000" stroke="#000" stroke-width="0.4"/>
<circle cx="1185.5" cy="858" r="1.1" fill="#000" stroke="#000" stroke-width="0.4"/>
<line x1="1166.5" y1="805.9" x2="1185.6" y2="805.9" stroke="#000" stroke-width="1.8" />
<polygon points="1162.4,805.9 1167.6,803.3 1167.6,808.5" fill="#fff" stroke="#000" stroke-width="1.1" stroke-linejoin="round"/>
<path d="M1172.4,798.9 C1173.6,797.3 1176,796.9 1177.1,799 C1178.3,801.5 1178.3,811 1177.1,814 C1176,816.2 1172.9,816.2 1171.8,813.6 C1171.3,812.2 1171.1,810.6 1171.3,809" fill="none" stroke="#000" stroke-width="1.9" />
<polygon points="1170.6,797.9 1173.6,796.8 1173.4,800.6" fill="#000" stroke="#000" stroke-width="0.6" stroke-linejoin="round"/>
<polygon points="1171.3,807.8 1169.8,811.2 1173.3,810.9" fill="#000" stroke="#000" stroke-width="0.6" stroke-linejoin="round"/>
<circle cx="1195.5" cy="805.6" r="6.6" fill="none" stroke="#000" stroke-width="1.1"/>
<text x="1195.5" y="809.8" font-size="11.6" font-weight="bold" text-anchor="middle"  >3</text>
<rect x="1144.8" y="899.3" width="71" height="13.9" rx="0.8" fill="#fff" stroke="#000" stroke-width="1.4"/>
<rect x="1177" y="896.2" width="6.7" height="3.1" rx="0" fill="none" stroke="#000" stroke-width="1.0"/>
<path d="M1158.8,900 A2.6,1.8 0 0 0 1164,900" fill="none" stroke="#000" stroke-width="1.1" />
<path d="M1168.1,900 A2.6,1.8 0 0 0 1173.3,900" fill="none" stroke="#000" stroke-width="1.1" />
<path d="M1177.7,900 A2.6,1.8 0 0 0 1182.9,900" fill="none" stroke="#000" stroke-width="1.1" />
<path d="M1187.3,900 A2.6,1.8 0 0 0 1192.5,900" fill="none" stroke="#000" stroke-width="1.1" />
<path d="M1196.6,900 A2.6,1.8 0 0 0 1201.8,900" fill="none" stroke="#000" stroke-width="1.1" />
<circle cx="1190.6" cy="922" r="7" fill="none" stroke="#000" stroke-width="1.0"/>
<text x="1190.6" y="926.2" font-size="11.6" font-weight="bold" text-anchor="middle"  >6</text>
<path d="M1177.4,931.4 V922 L1175.9,923 L1178.5,914.8 L1181,923 L1179.5,922 V931.4" fill="#fff" stroke="#000" stroke-width="1.0" />
<line x1="1458.75" y1="769.46" x2="1567.14" y2="706.96" stroke="#000" stroke-width="0.8" />
<polygon points="1458.75,769.46 1463.25,765.25 1464.65,767.68" fill="#000" stroke="#000" stroke-width="0.3" stroke-linejoin="round"/>
<polygon points="1567.14,706.96 1562.65,711.18 1561.25,708.75" fill="#000" stroke="#000" stroke-width="0.3" stroke-linejoin="round"/>
<line x1="1458.75" y1="769.46" x2="1494.46" y2="829.29" stroke="#000" stroke-width="0.8" />
<line x1="1567.14" y1="706.96" x2="1601.61" y2="767.68" stroke="#000" stroke-width="0.8" />
<text x="0" y="0" font-size="12.5" font-weight="bold" text-anchor="middle" textLength="49" lengthAdjust="spacingAndGlyphs" transform="translate(1522.42,731.11) rotate(-30)">145mm</text>
<polygon points="1494.46,829.29 1601.61,767.68 1615.89,775.71 1510.54,837.86" fill="#fff" stroke="#000" stroke-width="1.0" stroke-linejoin="round"/>
<line x1="1510.54" y1="837.86" x2="1615.89" y2="775.71" stroke="#000" stroke-width="1.2" />
<line x1="1510.54" y1="840.36" x2="1615.89" y2="778.21" stroke="#000" stroke-width="1.0" />
<polygon points="1494.46,829.29 1510.54,837.86 1510.54,853.39 1494.46,845.36" fill="#fff" stroke="#000" stroke-width="1.0" stroke-linejoin="round"/>
<polygon points="1601.61,767.68 1615.89,775.71 1615.89,790.36 1604.29,784.64" fill="#fff" stroke="#000" stroke-width="1.0" stroke-linejoin="round"/>
<circle cx="1502.14" cy="842.68" r="2.4" fill="#fff" stroke="#000" stroke-width="0.9"/>
<circle cx="1502.14" cy="842.68" r="1.2" fill="none" stroke="#000" stroke-width="0.6"/>
<ellipse cx="1526.61" cy="820.36" rx="2.6" ry="1.3" fill="#fff" stroke="#000" stroke-width="0.9" transform="rotate(-30 1526.61 820.36)"/>
<ellipse cx="1543.04" cy="810.54" rx="3.2" ry="1.6" fill="#fff" stroke="#000" stroke-width="0.9" transform="rotate(-30 1543.04 810.54)"/>
<ellipse cx="1557.86" cy="801.07" rx="3.6" ry="1.8" fill="#fff" stroke="#000" stroke-width="0.9" transform="rotate(-30 1557.86 801.07)"/>
<ellipse cx="1587.32" cy="784.64" rx="2.6" ry="1.3" fill="#fff" stroke="#000" stroke-width="0.9" transform="rotate(-30 1587.32 784.64)"/>
<line x1="1527.5" y1="795.36" x2="1527.5" y2="831.07" stroke="#000" stroke-width="1.0" />
<line x1="1586.43" y1="761.43" x2="1586.43" y2="888.21" stroke="#000" stroke-width="1.0" />
<polygon points="1472.33,861.56 1492.44,849.18 1491.14,846.89 1470.17,857.73" fill="#888" stroke="#000" stroke-width="0.8" stroke-linejoin="round"/>
<line x1="1475.27" y1="859.9" x2="1473.1" y2="856.07" stroke="#333" stroke-width="0.6" />
<line x1="1478.2" y1="858.24" x2="1476.03" y2="854.41" stroke="#333" stroke-width="0.6" />
<line x1="1481.13" y1="856.58" x2="1478.97" y2="852.75" stroke="#333" stroke-width="0.6" />
<line x1="1484.07" y1="854.93" x2="1481.9" y2="851.09" stroke="#333" stroke-width="0.6" />
<line x1="1487" y1="853.27" x2="1484.84" y2="849.44" stroke="#333" stroke-width="0.6" />
<line x1="1489.93" y1="851.61" x2="1487.77" y2="847.78" stroke="#333" stroke-width="0.6" />
<line x1="1472.57" y1="864.41" x2="1467.84" y2="856.05" stroke="#000" stroke-width="2.6" />
<line x1="1491.79" y1="848.04" x2="1502.14" y2="842.68" stroke="#000" stroke-width="0.9" />
<polygon points="1636.01,756.09 1616,771.97 1617.57,774.1 1638.63,759.63" fill="#888" stroke="#000" stroke-width="0.8" stroke-linejoin="round"/>
<line x1="1633.08" y1="758.26" x2="1635.7" y2="761.79" stroke="#333" stroke-width="0.6" />
<line x1="1630.15" y1="760.42" x2="1632.76" y2="763.96" stroke="#333" stroke-width="0.6" />
<line x1="1627.21" y1="762.59" x2="1629.83" y2="766.13" stroke="#333" stroke-width="0.6" />
<line x1="1624.28" y1="764.76" x2="1626.89" y2="768.3" stroke="#333" stroke-width="0.6" />
<line x1="1621.35" y1="766.93" x2="1623.96" y2="770.47" stroke="#333" stroke-width="0.6" />
<line x1="1618.41" y1="769.1" x2="1621.03" y2="772.64" stroke="#333" stroke-width="0.6" />
<line x1="1635.43" y1="753.28" x2="1641.14" y2="761" stroke="#000" stroke-width="2.6" />
<path d="M1524.7,769 V752 A2.8,2.8 0 0 1 1530.3,752 V769" fill="#fff" stroke="#000" stroke-width="1.2" />
<line x1="1524.1" y1="754" x2="1530.9" y2="754" stroke="#000" stroke-width="1.1" />
<line x1="1524.1" y1="757" x2="1530.9" y2="757" stroke="#000" stroke-width="1.1" />
<line x1="1524.1" y1="760" x2="1530.9" y2="760" stroke="#000" stroke-width="1.1" />
<line x1="1524.1" y1="763" x2="1530.9" y2="763" stroke="#000" stroke-width="1.1" />
<line x1="1524.1" y1="766" x2="1530.9" y2="766" stroke="#000" stroke-width="1.1" />
<path d="M1521,772 L1524.5,769 H1530.5 L1534,772" fill="none" stroke="#000" stroke-width="1.6" />
<rect x="1523.2" y="772" width="8.6" height="21.9" rx="0" fill="#fff" stroke="#000" stroke-width="1.2"/>
<rect x="1522.7" y="793.2" width="9.6" height="2.2" rx="1" fill="#000" stroke="#000" stroke-width="0.8"/>
<line x1="1527.5" y1="753" x2="1527.5" y2="774" stroke="#000" stroke-width="1.3" />
<line x1="1527.5" y1="783.4" x2="1527.5" y2="792.4" stroke="#000" stroke-width="1.3" />
<path d="M1583.6,735 V718 A2.8,2.8 0 0 1 1589.2,718 V735" fill="#fff" stroke="#000" stroke-width="1.2" />
<line x1="1583" y1="720" x2="1589.8" y2="720" stroke="#000" stroke-width="1.1" />
<line x1="1583" y1="723" x2="1589.8" y2="723" stroke="#000" stroke-width="1.1" />
<line x1="1583" y1="726" x2="1589.8" y2="726" stroke="#000" stroke-width="1.1" />
<line x1="1583" y1="729" x2="1589.8" y2="729" stroke="#000" stroke-width="1.1" />
<line x1="1583" y1="732" x2="1589.8" y2="732" stroke="#000" stroke-width="1.1" />
<path d="M1579.9,738 L1583.4,735 H1589.4 L1592.9,738" fill="none" stroke="#000" stroke-width="1.6" />
<rect x="1582.1" y="738" width="8.6" height="21.9" rx="0" fill="#fff" stroke="#000" stroke-width="1.2"/>
<rect x="1581.6" y="759.2" width="9.6" height="2.2" rx="1" fill="#000" stroke="#000" stroke-width="0.8"/>
<line x1="1586.4" y1="719" x2="1586.4" y2="740" stroke="#000" stroke-width="1.3" />
<line x1="1586.4" y1="749.4" x2="1586.4" y2="758.4" stroke="#000" stroke-width="1.3" />
<path d="M1527.5,831 Q1529.9,835 1529.9,839 L1529.3,855.5 Q1532,856.5 1532,858.5 Q1531.5,860.5 1527.5,860.5 Q1523.5,860.5 1523,858.5 Q1523,856.5 1525.7,855.5 L1525.1,839 Q1525.1,835 1527.5,831 Z" fill="#000" stroke="#000" stroke-width="0.6" />
<path d="M1586.4,799 Q1588.8,803 1588.8,807 L1588.2,822.5 Q1590.9,823.5 1590.9,825.5 Q1590.4,827.5 1586.4,827.5 Q1582.4,827.5 1581.9,825.5 Q1581.9,823.5 1584.6,822.5 L1584,807 Q1584,803 1586.4,799 Z" fill="#000" stroke="#000" stroke-width="0.6" />
<path d="M1594.32,909.11 A18.75,5.4 0 1 1 1578.48,909.11" fill="none" stroke="#000" stroke-width="1.1" />
<polygon points="1580.88,908.91 1577.58,911.22 1577.05,907.66" fill="#000" stroke="#000" stroke-width="0.3" stroke-linejoin="round"/>
<line x1="1586.4" y1="917" x2="1586.4" y2="898" stroke="#000" stroke-width="1.1" />
<polygon points="1586.4,895 1588.4,899.5 1584.4,899.5" fill="#000" stroke="#000" stroke-width="0.3" stroke-linejoin="round"/>
<circle cx="1618.9" cy="914.5" r="6.7" fill="none" stroke="#000" stroke-width="1.0"/>
<text x="1618.9" y="918.7" font-size="11.2" font-weight="bold" text-anchor="middle"  >1</text>
<rect x="1475.6" y="971.7" width="143.1" height="24.1" rx="1.5" fill="none" stroke="#000" stroke-width="1.4"/>
<circle cx="1547.4" cy="980.2" r="3.9" fill="none" stroke="#000" stroke-width="1.3"/>
<line x1="1475.6" y1="950.7" x2="1618.7" y2="950.7" stroke="#888" stroke-width="0.8" />
<line x1="1475.6" y1="950.7" x2="1475.6" y2="971.7" stroke="#888" stroke-width="0.8" />
<line x1="1618.7" y1="950.7" x2="1618.7" y2="971.7" stroke="#888" stroke-width="0.8" />
<text x="1530.3" y="949" font-size="12.8" font-weight="bold" text-anchor="start" textLength="46" lengthAdjust="spacingAndGlyphs" >150mm</text>
<rect x="1444.4" y="976" width="17.6" height="6.8" rx="0" fill="#111" stroke="#000" stroke-width="0.6"/>
<line x1="1447.33" y1="976" x2="1447.33" y2="982.8" stroke="#666" stroke-width="0.5" />
<line x1="1450.27" y1="976" x2="1450.27" y2="982.8" stroke="#666" stroke-width="0.5" />
<line x1="1453.2" y1="976" x2="1453.2" y2="982.8" stroke="#666" stroke-width="0.5" />
<line x1="1456.13" y1="976" x2="1456.13" y2="982.8" stroke="#666" stroke-width="0.5" />
<line x1="1459.07" y1="976" x2="1459.07" y2="982.8" stroke="#666" stroke-width="0.5" />
<path d="M1444.9,975.4 A2.4,4 0 0 0 1444.9,983.4" fill="none" stroke="#888" stroke-width="0.8" />
<line x1="1462" y1="979.4" x2="1483.7" y2="979.4" stroke="#000" stroke-width="1.1" />
<rect x="1634" y="976" width="18.4" height="6.8" rx="0" fill="#111" stroke="#000" stroke-width="0.6"/>
<line x1="1637.07" y1="976" x2="1637.07" y2="982.8" stroke="#666" stroke-width="0.5" />
<line x1="1640.13" y1="976" x2="1640.13" y2="982.8" stroke="#666" stroke-width="0.5" />
<line x1="1643.2" y1="976" x2="1643.2" y2="982.8" stroke="#666" stroke-width="0.5" />
<line x1="1646.27" y1="976" x2="1646.27" y2="982.8" stroke="#666" stroke-width="0.5" />
<line x1="1649.33" y1="976" x2="1649.33" y2="982.8" stroke="#666" stroke-width="0.5" />
<path d="M1649.9,975.4 A2.4,4 0 0 1 1649.9,983.4" fill="none" stroke="#888" stroke-width="0.8" />
<line x1="1611" y1="979.4" x2="1632" y2="979.4" stroke="#000" stroke-width="1.1" />
<line x1="1658.5" y1="979.9" x2="1686.8" y2="979.9" stroke="#000" stroke-width="1.5" />
<polygon points="1655.1,979.9 1659.1,977.8 1659.1,982" fill="#000" stroke="#000" stroke-width="0.3" stroke-linejoin="round"/>
<path d="M1666.3,984.3 C1666.3,991 1668.3,995.8 1670.9,995.8 C1673.6,995.8 1675.7,989 1675.7,980.5 C1675.7,972 1673.6,965.1 1670.9,965.1 C1668.3,965.1 1666.7,969 1666.5,972.5" fill="none" stroke="#000" stroke-width="1.2" />
<polygon points="1666.6,976 1664.9,972.6 1668.3,972.6" fill="#000" stroke="#000" stroke-width="0.3" stroke-linejoin="round"/>
<circle cx="1672.6" cy="1007.8" r="6.4" fill="none" stroke="#000" stroke-width="1.0"/>
<text x="1672.6" y="1011.9" font-size="11.2" font-weight="bold" text-anchor="middle"  >8</text>
</svg>
</body></html>
